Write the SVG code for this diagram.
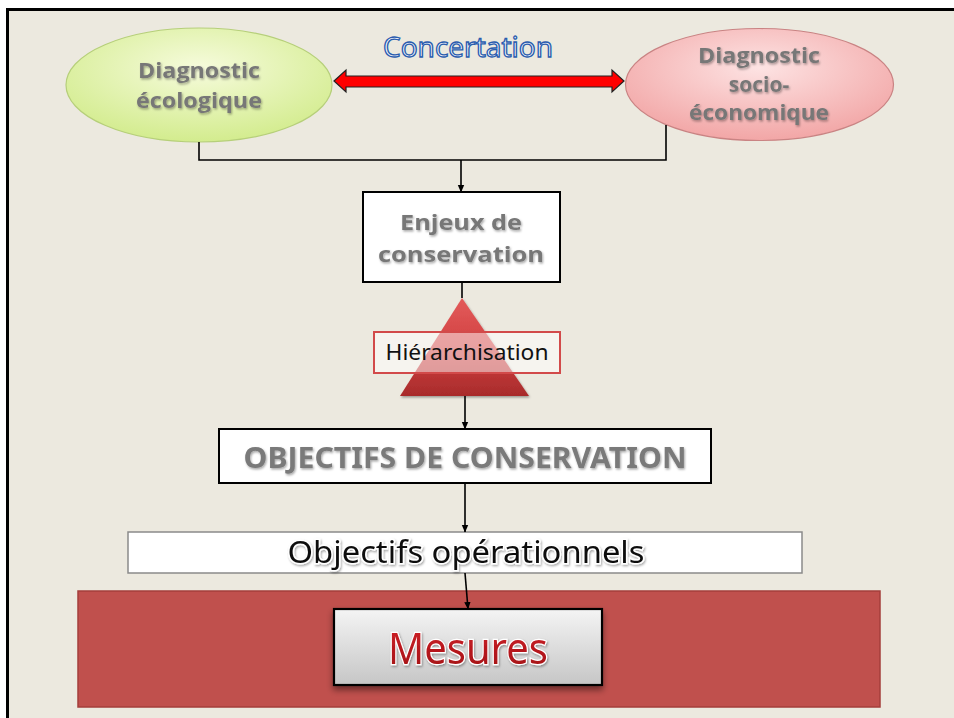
<svg xmlns="http://www.w3.org/2000/svg" width="954" height="718" viewBox="0 0 954 718">
<defs>
<radialGradient id="gGreen" cx="0.5" cy="0.35" r="0.65">
<stop offset="0" stop-color="#f6fbdc"/>
<stop offset="1" stop-color="#d3ec8e"/>
</radialGradient>
<radialGradient id="gPink" cx="0.5" cy="0.35" r="0.65">
<stop offset="0" stop-color="#fde3e3"/>
<stop offset="1" stop-color="#f2a6a6"/>
</radialGradient>
<linearGradient id="gTri" x1="0" y1="0" x2="0" y2="1">
<stop offset="0" stop-color="#e35a5a"/>
<stop offset="0.55" stop-color="#cf4040"/>
<stop offset="1" stop-color="#a82b2b"/>
</linearGradient>
<linearGradient id="gGray" x1="0" y1="0" x2="0" y2="1">
<stop offset="0" stop-color="#f4f4f4"/>
<stop offset="1" stop-color="#c6c6c6"/>
</linearGradient>
<linearGradient id="gMes" x1="0" y1="0" x2="0" y2="1">
<stop offset="0" stop-color="#d8232a"/>
<stop offset="1" stop-color="#9c0f14"/>
</linearGradient>
<filter id="tsh" x="-10%" y="-30%" width="120%" height="160%">
<feDropShadow dx="1" dy="1.5" stdDeviation="1" flood-color="#000" flood-opacity="0.35"/>
</filter>
<filter id="bsh" x="-10%" y="-20%" width="120%" height="150%">
<feDropShadow dx="0" dy="4" stdDeviation="3" flood-color="#000" flood-opacity="0.45"/>
</filter>
<marker id="ah" markerWidth="8" markerHeight="8" refX="7" refY="4" orient="auto" markerUnits="userSpaceOnUse">
<path d="M0,0.8 L7.5,4 L0,7.2 Z" fill="#000"/>
</marker>
<style>
.lbl{font-family:"Open Sans","DejaVu Sans",sans-serif;font-weight:bold;fill:#777;text-anchor:middle}
.cal{font-family:"Noto Sans","Open Sans",sans-serif;text-anchor:middle}
.con{fill:none;stroke:#000;stroke-width:1.6}
</style>
</defs>

<rect x="0" y="0" width="954" height="718" fill="#fff"/>
<rect x="7" y="9" width="947" height="709" fill="#ECE9DF"/>
<path d="M7.5,718 V9.5 H954" fill="none" stroke="#000" stroke-width="3"/>

<g id="concertation">
<path d="M334,81 L346,70 L346,76 L612,76 L612,70 L624,81 L612,92 L612,87 L346,87 L346,92 Z" fill="#ff0000" stroke="#222" stroke-width="1.2" stroke-linejoin="miter"/>
<text x="468" y="57" class="cal" font-size="27" textLength="170" lengthAdjust="spacingAndGlyphs" fill="#f4f6fb" stroke="#2a5cae" stroke-width="1.3">Concertation</text>
</g>

<g id="diag-eco">
<ellipse cx="199" cy="85" rx="133" ry="57" fill="url(#gGreen)" stroke="#b6cf7a" stroke-width="1.2"/>
<text class="lbl" font-size="21" filter="url(#tsh)"><tspan x="199" y="78" textLength="122" lengthAdjust="spacingAndGlyphs">Diagnostic</tspan><tspan x="199" y="108" textLength="126" lengthAdjust="spacingAndGlyphs">écologique</tspan></text>
</g>

<g id="diag-socio">
<ellipse cx="759.5" cy="84.5" rx="134" ry="56" fill="url(#gPink)" stroke="#c98383" stroke-width="1.2"/>
<text class="lbl" font-size="21" filter="url(#tsh)"><tspan x="759" y="63" textLength="122" lengthAdjust="spacingAndGlyphs">Diagnostic</tspan><tspan x="759" y="92">socio-</tspan><tspan x="759" y="120" textLength="140" lengthAdjust="spacingAndGlyphs">économique</tspan></text>
</g>

<g id="enjeux">
<rect x="363" y="192" width="197" height="90" fill="#fff" stroke="#000" stroke-width="2"/>
<text class="lbl" font-size="22" filter="url(#tsh)"><tspan x="461" y="230" textLength="122" lengthAdjust="spacingAndGlyphs">Enjeux de</tspan><tspan x="461" y="262" textLength="166" lengthAdjust="spacingAndGlyphs">conservation</tspan></text>
</g>

<g id="hierarchisation">
<path d="M462,298 L529,396 L400,396 Z" fill="url(#gTri)" filter="url(#tsh)"/>
<rect x="374" y="332" width="186" height="41" fill="#fff" fill-opacity="0.5" stroke="#d24a4a" stroke-width="2"/>
<text x="467" y="360" class="cal" font-size="21" textLength="163" lengthAdjust="spacingAndGlyphs" fill="#111">Hiérarchisation</text>
</g>

<g id="objectifs-conservation">
<rect x="219" y="429" width="492" height="54" fill="#fff" stroke="#000" stroke-width="2"/>
<text x="465" y="468" class="cal" font-size="28" font-weight="bold" textLength="443" lengthAdjust="spacingAndGlyphs" fill="#7a7a7a" filter="url(#tsh)">OBJECTIFS DE CONSERVATION</text>
</g>

<g id="objectifs-operationnels">
<rect x="128" y="532" width="674" height="41" fill="#fff" stroke="#8a8a8a" stroke-width="1.5"/>
<text x="466" y="563" class="cal" font-size="31" textLength="357" lengthAdjust="spacingAndGlyphs" fill="#111" stroke="#fff" stroke-width="3" paint-order="stroke" filter="url(#tsh)">Objectifs opérationnels</text>
</g>

<g id="mesures">
<rect x="78" y="591" width="802" height="116" fill="#c0504d" stroke="#a43e3b" stroke-width="1.5"/>
<rect x="334" y="609" width="268" height="76" fill="url(#gGray)" stroke="#000" stroke-width="2.2" filter="url(#bsh)"/>
<text x="468" y="664" class="cal" font-size="44" textLength="160" lengthAdjust="spacingAndGlyphs" fill="url(#gMes)" stroke="#fff" stroke-width="2.5" paint-order="stroke" filter="url(#tsh)">Mesures</text>
</g>

<g id="connectors">
<path class="con" d="M199,142 V160 H666 V125"/>
<path class="con" d="M461,160 V192" marker-end="url(#ah)"/>
<path class="con" d="M462,282 V298"/>
<path class="con" d="M465,396 V429" marker-end="url(#ah)"/>
<path class="con" d="M465,483 V532" marker-end="url(#ah)"/>
<path class="con" d="M465,573 L468,609" marker-end="url(#ah)"/>
</g>
</svg>
